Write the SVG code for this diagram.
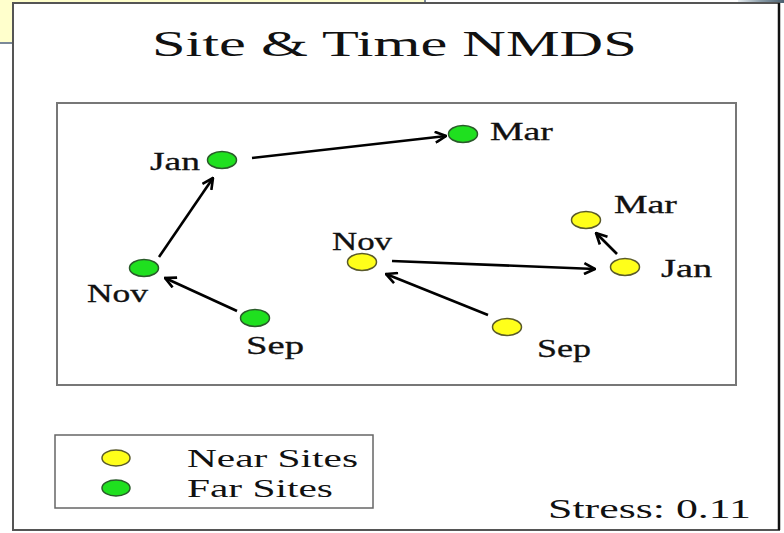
<svg xmlns="http://www.w3.org/2000/svg" width="784" height="533" viewBox="0 0 784 533">
<style>
.t{font-family:"Liberation Serif","Times New Roman",serif;fill:#111}
.lbl{font-size:25px;stroke:#111;stroke-width:0.3}
.leg{font-size:26px}
.near{fill:#ffff1a;stroke:#5a5a2a;stroke-width:1.5}
.far{fill:#1fe01f;stroke:#2a5a2a;stroke-width:1.5}
.arr{stroke:#000;stroke-width:2.6;fill:none;marker-end:url(#ah)}
</style>
<defs>
<marker id="ah" viewBox="0 0 12 12" refX="11" refY="6" markerWidth="13" markerHeight="13" markerUnits="userSpaceOnUse" orient="auto">
<path d="M1,1 L11,6 L1,11" fill="none" stroke="#000" stroke-width="2.4"/>
</marker>
<linearGradient id="tr" x1="0" x2="1" y1="0" y2="0">
<stop offset="0" stop-color="#e8eef2"/><stop offset="0.5" stop-color="#8a9ca8"/><stop offset="1" stop-color="#4a6070"/>
</linearGradient>
</defs>
<rect x="0" y="0" width="784" height="533" fill="#fff"/>
<rect x="-1" y="-1" width="426" height="44" fill="#ffffcc" stroke="#7a8898" stroke-width="2"/>
<rect x="738" y="0" width="46" height="3" fill="url(#tr)"/>
<rect x="13" y="3" width="766" height="527" fill="#fff" stroke="#555" stroke-width="2"/>
<line x1="779" y1="3" x2="779" y2="530" stroke="#111" stroke-width="2.5"/>
<text class="t" transform="translate(152,56) scale(1.6,1)" font-size="36" textLength="303" lengthAdjust="spacingAndGlyphs">Site &amp; Time NMDS</text>
<rect x="57" y="103" width="679" height="282" fill="none" stroke="#777" stroke-width="2"/>
<g id="connectors">
<line class="arr" x1="237" y1="311" x2="165" y2="278"/>
<line class="arr" x1="159" y1="257" x2="213" y2="178"/>
<line class="arr" x1="252" y1="158" x2="446" y2="136"/>
<line class="arr" x1="488" y1="315" x2="386" y2="274"/>
<line class="arr" x1="392" y1="261" x2="595" y2="269"/>
<line class="arr" x1="617" y1="254" x2="596" y2="233"/>
</g>
<g id="far-jan"><ellipse class="far" cx="222" cy="160" rx="14.5" ry="8.5"/><text class="t lbl" transform="translate(150,170) scale(1.45,1)" textLength="34.5" lengthAdjust="spacingAndGlyphs">Jan</text></g>
<g id="far-mar"><ellipse class="far" cx="463" cy="134" rx="14.5" ry="8.5"/><text class="t lbl" transform="translate(490,140) scale(1.45,1)" textLength="43.4" lengthAdjust="spacingAndGlyphs">Mar</text></g>
<g id="far-nov"><ellipse class="far" cx="144" cy="268" rx="14.5" ry="8.5"/><text class="t lbl" transform="translate(87,302) scale(1.45,1)" textLength="42.1" lengthAdjust="spacingAndGlyphs">Nov</text></g>
<g id="far-sep"><ellipse class="far" cx="255" cy="318" rx="14.5" ry="8.5"/><text class="t lbl" transform="translate(246,354) scale(1.45,1)" textLength="40" lengthAdjust="spacingAndGlyphs">Sep</text></g>
<g id="near-nov"><ellipse class="near" cx="362" cy="262" rx="14.5" ry="8.5"/><text class="t lbl" transform="translate(332,250) scale(1.45,1)" textLength="41.4" lengthAdjust="spacingAndGlyphs">Nov</text></g>
<g id="near-jan"><ellipse class="near" cx="625" cy="267" rx="14.5" ry="8.5"/><text class="t lbl" transform="translate(661,277) scale(1.45,1)" textLength="35.2" lengthAdjust="spacingAndGlyphs">Jan</text></g>
<g id="near-mar"><ellipse class="near" cx="586" cy="220" rx="14.5" ry="8.5"/><text class="t lbl" transform="translate(614,213) scale(1.45,1)" textLength="43.4" lengthAdjust="spacingAndGlyphs">Mar</text></g>
<g id="near-sep"><ellipse class="near" cx="507" cy="327" rx="14.5" ry="8.5"/><text class="t lbl" transform="translate(537,357) scale(1.45,1)" textLength="37.2" lengthAdjust="spacingAndGlyphs">Sep</text></g>
<g id="legend">
<rect x="55" y="435" width="318" height="73" fill="none" stroke="#666" stroke-width="1.5"/>
<ellipse class="near" cx="116" cy="458" rx="14" ry="8"/>
<ellipse class="far" cx="116" cy="488" rx="14" ry="8"/>
<text class="t leg" transform="translate(187,467) scale(1.5,1)" textLength="114" lengthAdjust="spacingAndGlyphs">Near Sites</text>
<text class="t leg" transform="translate(187,497) scale(1.5,1)" textLength="97.3" lengthAdjust="spacingAndGlyphs">Far Sites</text>
</g>
<text class="t" transform="translate(548,518) scale(1.6,1)" font-size="27" textLength="126.9" lengthAdjust="spacingAndGlyphs">Stress: 0.11</text>
</svg>
